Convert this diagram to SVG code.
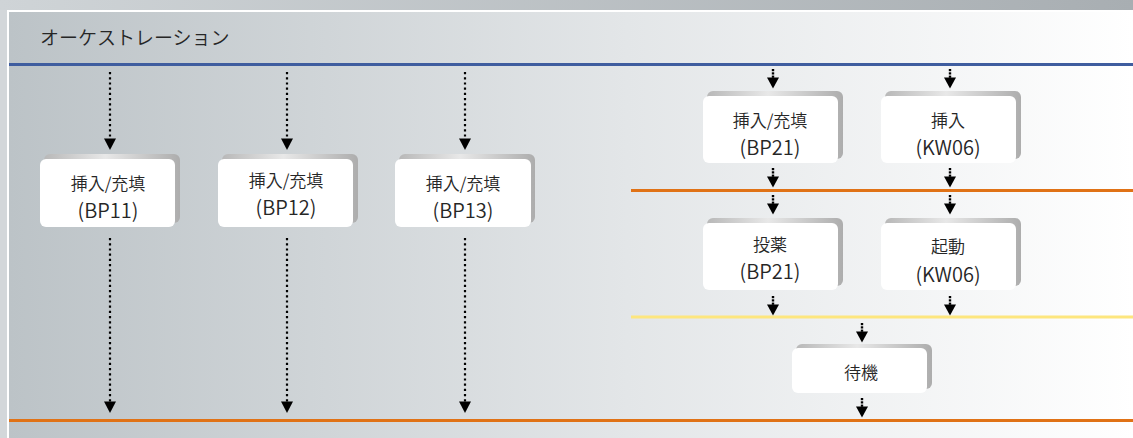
<svg xmlns="http://www.w3.org/2000/svg" width="1133" height="438" viewBox="0 0 1133 438">
<defs>
<linearGradient id="panel" x1="0" y1="0" x2="1" y2="0">
<stop offset="0" stop-color="#bcc3c7"/>
<stop offset="0.55" stop-color="#e3e6e8"/>
<stop offset="1" stop-color="#ffffff"/>
</linearGradient>
<linearGradient id="topstrip" x1="0" y1="0" x2="1" y2="0">
<stop offset="0" stop-color="#cfd4d7"/>
<stop offset="1" stop-color="#a8aeb2"/>
</linearGradient>
<linearGradient id="shadow" x1="0" y1="0" x2="1" y2="0">
<stop offset="0" stop-color="#b8b8b8"/>
<stop offset="0.45" stop-color="#e8e8e8"/>
<stop offset="1" stop-color="#adadad"/>
</linearGradient>
<g id="sa">
<rect x="-1.2" y="0" width="2.4" height="2.2"/>
<rect x="-1.2" y="3.3" width="2.4" height="2.2"/>
<rect x="-1.2" y="6.6" width="2.4" height="2.2"/>
<polygon points="-6,8.5 6,8.5 0,19.5"/>
</g>
</defs>
<style>
.box{fill:#ffffff}
.sh{fill:url(#shadow)}
.t{font-family:"Noto Sans CJK JP","Noto Sans",sans-serif;font-weight:350;fill:#262626;text-anchor:middle;dominant-baseline:central}
.j{font-size:17px}
.c{font-size:20px}
.dot{stroke:#000;stroke-width:2.2;stroke-dasharray:2.2 3;fill:none}
.head{fill:#000}
</style>
<rect x="0" y="0" width="1133" height="438" fill="#d3d7da"/>
<rect x="0" y="0" width="1133" height="10" fill="url(#topstrip)"/>
<rect x="7" y="10" width="1126" height="428" fill="#ffffff"/>
<rect x="9" y="12" width="1124" height="426" fill="url(#panel)"/>
<text x="40" y="36" font-family="'Noto Sans CJK JP','Noto Sans',sans-serif" font-weight="350" font-size="19" fill="#262626" dominant-baseline="central">オーケストレーション</text>
<g id="lanes">
<line x1="9" y1="64.5" x2="1133" y2="64.5" stroke="#3f5d9f" stroke-width="3"/>
<line x1="631" y1="190.5" x2="1133" y2="190.5" stroke="#e07216" stroke-width="3"/>
<line x1="631" y1="317" x2="1133" y2="317" stroke="#fde67e" stroke-width="3"/>
<line x1="9" y1="420.5" x2="1133" y2="420.5" stroke="#e07216" stroke-width="3"/>
</g>
<g id="connectors">
<path class="dot" d="M110 72V139M287 72V139M465 72V139"/>
<polygon class="head" points="104,138.5 116,138.5 110,150"/>
<polygon class="head" points="281,138.5 293,138.5 287,150"/>
<polygon class="head" points="459,138.5 471,138.5 465,150"/>
<path class="dot" d="M110 238V402M287 238V402M465 238V402"/>
<polygon class="head" points="104,401.5 116,401.5 110,413"/>
<polygon class="head" points="281,401.5 293,401.5 287,413"/>
<polygon class="head" points="459,401.5 471,401.5 465,413"/>
<use href="#sa" x="773" y="69"/>
<use href="#sa" x="950" y="69"/>
<use href="#sa" x="773" y="168"/>
<use href="#sa" x="950" y="168"/>
<use href="#sa" x="773" y="195"/>
<use href="#sa" x="950" y="195"/>
<use href="#sa" x="773" y="296"/>
<use href="#sa" x="950" y="296"/>
<use href="#sa" x="862" y="323"/>
<use href="#sa" x="862" y="398"/>
</g>
<g id="n-bp11">
<rect class="sh" x="44" y="154" width="136" height="69" rx="6"/>
<rect class="box" x="40" y="159" width="135" height="68" rx="6"/>
<text class="t j" x="108" y="182">挿入/充填</text>
<text class="t c" x="108" y="209">(BP11)</text>
</g>
<g id="n-bp12">
<rect class="sh" x="222" y="154" width="136" height="69" rx="6"/>
<rect class="box" x="218" y="159" width="135" height="68" rx="6"/>
<text class="t j" x="286" y="179">挿入/充填</text>
<text class="t c" x="286" y="206">(BP12)</text>
</g>
<g id="n-bp13">
<rect class="sh" x="399" y="154" width="136" height="69" rx="6"/>
<rect class="box" x="395" y="159" width="136" height="68" rx="6"/>
<text class="t j" x="463" y="182">挿入/充填</text>
<text class="t c" x="463" y="209">(BP13)</text>
</g>
<g id="n-bp21-ins">
<rect class="sh" x="707" y="91" width="136" height="68" rx="6"/>
<rect class="box" x="703" y="96" width="135" height="67" rx="6"/>
<text class="t j" x="770" y="119">挿入/充填</text>
<text class="t c" x="770" y="146">(BP21)</text>
</g>
<g id="n-kw06-ins">
<rect class="sh" x="885" y="91" width="136" height="68" rx="6"/>
<rect class="box" x="881" y="96" width="135" height="67" rx="6"/>
<text class="t j" x="948" y="119">挿入</text>
<text class="t c" x="948" y="146">(KW06)</text>
</g>
<g id="n-bp21-dose">
<rect class="sh" x="707" y="218" width="136" height="68" rx="6"/>
<rect class="box" x="703" y="223" width="135" height="67" rx="6"/>
<text class="t j" x="770" y="243">投薬</text>
<text class="t c" x="770" y="270">(BP21)</text>
</g>
<g id="n-kw06-start">
<rect class="sh" x="885" y="218" width="136" height="68" rx="6"/>
<rect class="box" x="881" y="223" width="135" height="67" rx="6"/>
<text class="t j" x="948" y="245">起動</text>
<text class="t c" x="948" y="273">(KW06)</text>
</g>
<g id="n-wait">
<rect class="sh" x="796" y="344" width="136" height="45" rx="6"/>
<rect class="box" x="792" y="348" width="135" height="45" rx="6"/>
<text class="t j" x="861" y="371">待機</text>
</g>
</svg>
